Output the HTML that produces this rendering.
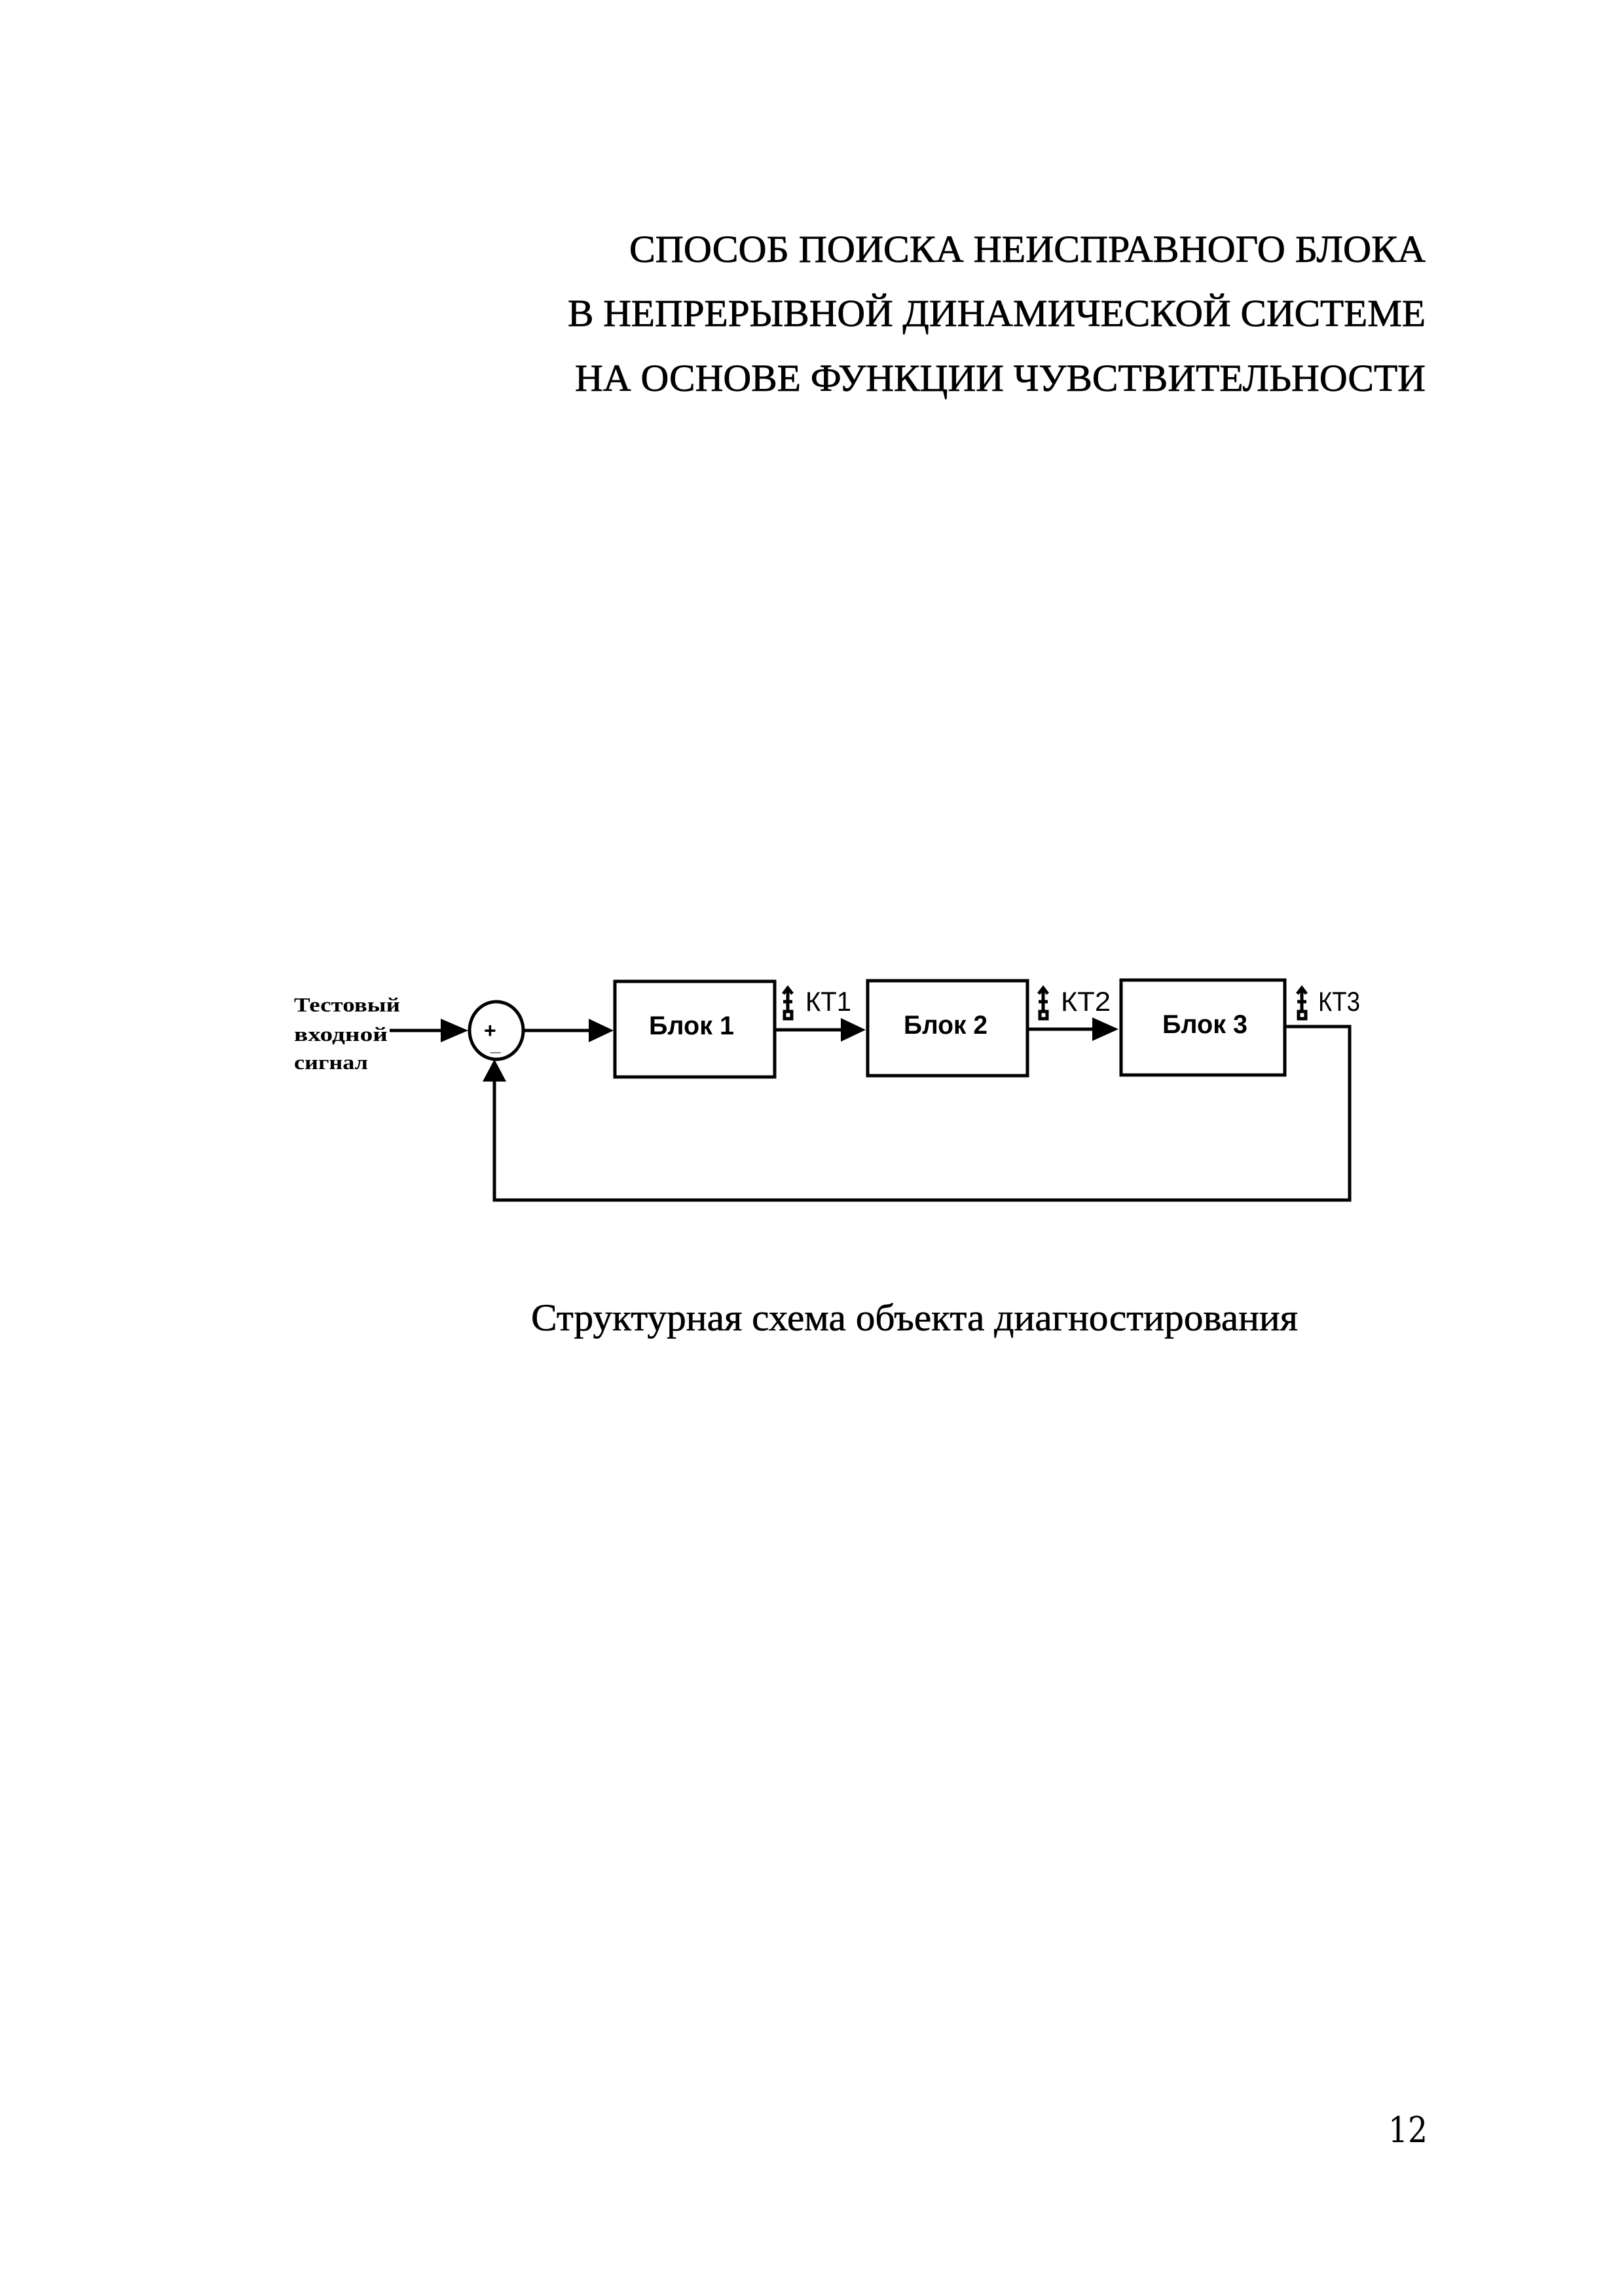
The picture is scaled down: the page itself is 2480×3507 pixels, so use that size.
<!DOCTYPE html>
<html><head><meta charset="utf-8"><style>
html,body{margin:0;padding:0;background:#fff;}
svg{display:block;}
</style></head><body>
<svg width="2480" height="3507" viewBox="0 0 2480 3507" xmlns="http://www.w3.org/2000/svg">
<rect width="2480" height="3507" fill="#fff"/>
<g font-family="Liberation Serif, serif" font-size="58" fill="#000" stroke="#000" stroke-width="0.8" text-anchor="end">
<text x="2177" y="400" textLength="1216" lengthAdjust="spacingAndGlyphs">СПОСОБ ПОИСКА НЕИСПРАВНОГО БЛОКА</text>
<text x="2177" y="498" textLength="1310" lengthAdjust="spacingAndGlyphs">В НЕПРЕРЫВНОЙ ДИНАМИЧЕСКОЙ СИСТЕМЕ</text>
<text x="2177" y="597" textLength="1299" lengthAdjust="spacingAndGlyphs">НА ОСНОВЕ ФУНКЦИИ ЧУВСТВИТЕЛЬНОСТИ</text>
</g>
<g stroke="#000" fill="none" stroke-width="5">
<rect x="939" y="1499" width="244" height="146"/>
<rect x="1325" y="1498" width="244" height="145"/>
<rect x="1712" y="1497" width="250" height="145"/>
<ellipse cx="758" cy="1574" rx="41" ry="44"/>
<line x1="595" y1="1574" x2="680" y2="1574"/>
<line x1="799" y1="1574" x2="905" y2="1574"/>
<line x1="1183" y1="1573" x2="1290" y2="1573"/>
<line x1="1569" y1="1572" x2="1675" y2="1572"/>
<polyline points="1962,1568 2061,1568 2061,1833 755,1833 755,1645"/>
</g>
<g fill="#000">
<polygon points="673,1556 715,1574 673,1592"/>
<polygon points="899,1556 937,1574 899,1592"/>
<polygon points="1284,1555 1322,1573 1284,1591"/>
<polygon points="1668,1554 1708,1572 1668,1590"/>
<polygon points="737,1652 755,1618 773,1652"/>
</g>
<g font-family="Liberation Sans, sans-serif" font-size="32" font-weight="bold" fill="#000">
<text x="739" y="1585">+</text>
<text x="749" y="1605" font-size="28">_</text>
</g>
<g font-family="Liberation Serif, serif" font-weight="bold" font-size="31" fill="#000">
<text x="449" y="1545" textLength="162" lengthAdjust="spacingAndGlyphs">Тестовый</text>
<text x="449" y="1590" textLength="143" lengthAdjust="spacingAndGlyphs">входной</text>
<text x="449" y="1633" textLength="113" lengthAdjust="spacingAndGlyphs">сигнал</text>
</g>
<g font-family="Liberation Sans, sans-serif" font-weight="bold" font-size="40" fill="#000">
<text x="991" y="1580" textLength="130" lengthAdjust="spacingAndGlyphs">Блок 1</text>
<text x="1380" y="1579" textLength="128" lengthAdjust="spacingAndGlyphs">Блок 2</text>
<text x="1775" y="1578" textLength="130" lengthAdjust="spacingAndGlyphs">Блок 3</text>
</g>
<g font-family="Liberation Sans, sans-serif" font-size="42" fill="#000">
<text x="1230" y="1544" textLength="70" lengthAdjust="spacingAndGlyphs">КТ1</text>
<text x="1620" y="1544" textLength="76" lengthAdjust="spacingAndGlyphs">КТ2</text>
<text x="2013" y="1544" textLength="64" lengthAdjust="spacingAndGlyphs">КТ3</text>
</g>
<g stroke="#000" stroke-width="5" fill="none">
<line x1="1203" y1="1510" x2="1203" y2="1545"/><polyline points="1196,1518 1203,1509 1210,1518"/><line x1="1196" y1="1530" x2="1210" y2="1530"/><rect x="1198" y="1545" width="11" height="11"/>
<line x1="1593" y1="1510" x2="1593" y2="1545"/><polyline points="1586,1518 1593,1509 1600,1518"/><line x1="1586" y1="1530" x2="1600" y2="1530"/><rect x="1588" y="1545" width="11" height="11"/>
<line x1="1988" y1="1510" x2="1988" y2="1545"/><polyline points="1981,1518 1988,1509 1995,1518"/><line x1="1981" y1="1530" x2="1995" y2="1530"/><rect x="1983" y="1545" width="11" height="11"/>
</g>
<text x="811" y="2032" font-family="Liberation Serif, serif" font-size="58" fill="#000" stroke="#000" stroke-width="0.6" textLength="1171" lengthAdjust="spacingAndGlyphs">Структурная схема объекта диагностирования</text>
<text x="2120" y="3272" font-family="DejaVu Serif, serif" font-size="54" fill="#000" textLength="60" lengthAdjust="spacingAndGlyphs">12</text>
</svg>
</body></html>
